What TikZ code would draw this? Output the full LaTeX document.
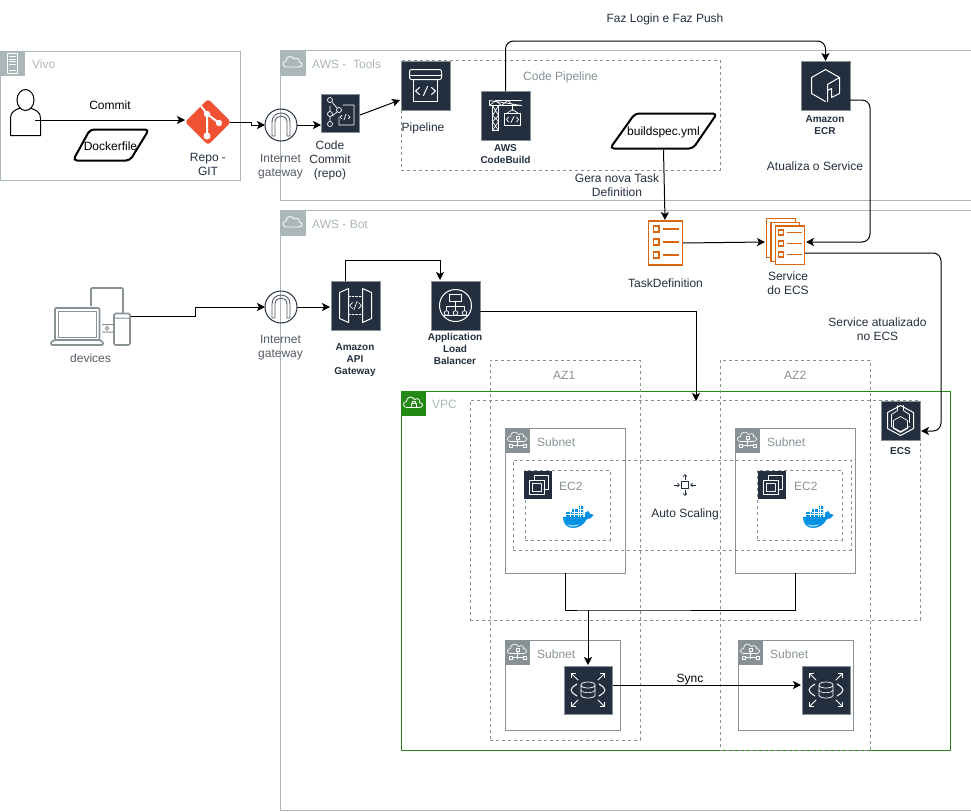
\documentclass[tikz,border=0pt]{standalone}
\usepackage{fontspec}
\setmainfont{Liberation Sans}
\usetikzlibrary{arrows.meta,calc}
\definecolor{aws}{HTML}{232F3E}
\definecolor{grp}{HTML}{AAB7B8}
\definecolor{dsh}{HTML}{879196}
\definecolor{mut}{HTML}{545B64}
\definecolor{org}{HTML}{D86613}
\definecolor{grn}{HTML}{248814}
\definecolor{gitc}{HTML}{F05133}
\definecolor{dock}{HTML}{0091E2}
\newcommand\bx[6]{\pgfmathsetmacro\bw{#5-#3}\pgfmathsetmacro\bh{#6-#4}\node[#1,anchor=north west,minimum width=\bw pt,minimum height=\bh pt] (#2) at (#3,#4) {};}
\tikzset{
 x=1pt,y=-1pt,
 group/.style={draw=grp,line width=1pt,inner sep=0,outer sep=0},
 subn/.style={draw=dsh,line width=1pt,inner sep=0,outer sep=0},
 vpcbox/.style={draw=grn,line width=1pt,inner sep=0,outer sep=0},
 dbox/.style={draw=dsh,line width=.8pt,dash pattern=on 3pt off 3pt,inner sep=0,outer sep=0},
 hdr/.style={fill=#1,anchor=north west,minimum size=25pt,inner sep=0,outer sep=0},
 icon/.style={fill=aws,draw=dsh,line width=.8pt,minimum size=#1 pt,inner sep=0,outer sep=0},
 conn/.style={draw=black,line width=1pt,-{Stealth[length=8pt,width=8pt,inset=2pt]}},
 plain/.style={draw=black,line width=1pt},
 lbl/.style={font=\fontsize{12}{14}\selectfont,align=center,inner sep=0,text=aws},
 grayl/.style={font=\fontsize{12}{14}\selectfont,align=center,inner sep=0,text=mut},
 grplbl/.style={font=\fontsize{12}{14}\selectfont,anchor=west,inner sep=0,text=grp},
 sublbl/.style={font=\fontsize{12}{14}\selectfont,anchor=west,inner sep=0,text=dsh},
 blbl/.style={font=\fontsize{10}{12}\bfseries\selectfont,align=center,inner sep=0,text=aws},
 wl/.style={draw=white,line width=1pt,line join=round,line cap=round},
 wt/.style={draw=white,line width=.7pt,line join=round,line cap=round},
 pics/cloudg/.style={code={\draw[white,line width=.8pt,line join=round] (-7,4) .. controls (-11,4) and (-11,-2) .. (-7,-2) .. controls (-7,-7) and (-1,-8) .. (1,-4) .. controls (4,-6) and (7,-4) .. (6,-1) .. controls (10,-1) and (10,4) .. (6,4) -- cycle;}},
 pics/vpcg/.style={code={\pic {cloudg};\draw[wt] (-2.5,0) rectangle (2.5,3.5) (-1.5,0) -- (-1.5,-2) -- (1.5,-2) -- (1.5,0);}},
 pics/subnetg/.style={code={\draw[wt] (-7,1) .. controls (-11,1) and (-11,-4) .. (-7,-4) .. controls (-7,-9) and (-1,-10) .. (1,-6) .. controls (4,-8) and (7,-6) .. (6,-4) .. controls (10,-4) and (10,1) .. (6,1) -- cycle;
   \draw[wt] (-1.5,-4) rectangle (1.5,-1) (0,-1) -- (0,6) (-6,5) -- (-8,5) (-6,5) -- (6,5);
   \draw[wt,fill=dsh] (-8.5,3.5) rectangle (-5.5,6.5) (5.5,3.5) rectangle (8.5,6.5);}},
 pics/serverg/.style={code={\draw[wt] (-5,-10) rectangle (5,10) (-3,-7)--(3,-7) (-3,-4.5)--(3,-4.5) (-3,-2)--(3,-2) (-3,.5)--(3,.5) (-3,7)--(3,7);}},
 pics/igwg/.style={code={\draw[draw=mut,line width=.9pt,line join=round] (-9,11) -- (-9,-3) .. controls (-9,-15) and (9,-15) .. (9,-3) -- (9,11) -- (6,11) -- (6,-3) .. controls (6,-11) and (-6,-11) .. (-6,-3) -- (-6,11) -- cycle;}},
 pics/pipeg/.style={code={\draw[wl,rounded corners=2pt] (-16,-6) rectangle (16,-16);
   \draw[wl] (-16,-10)--(16,-10) (-12,-6) -- (-12,16) -- (12,16) -- (12,-6);
   \draw[wl] (-6,2)--(-10,5.5)--(-6,9) (6,2)--(10,5.5)--(6,9) (-2,10)--(2,1);}},
 pics/commitg/.style={code={\draw[wt] (-10,-7) -- (-10,-2) (-10,4) -- (-10,8) (-10,-13) circle[radius=2.5] (-10,1) circle[radius=2.5] (-10,11) circle[radius=2.5] (-1,-3) circle[radius=2.5];
   \draw[wt] (-8,-11) -- (-3,-5) (-3,-1) -- (-8,3) (3,-8) -- (14,-8) -- (14,12) -- (-1,12) -- (-1,4);
   \draw[wt] (2,2)--(0,4)--(2,6) (8,2)--(10,4)--(8,6) (4,7)--(6,1);}},
 pics/cbg/.style={code={\draw[wt] (-16,-15) -- (16,-10) -- (-16,-10) -- cycle (-16,-10)--(-10,-15)--(-4,-10)--(2,-15)--(8,-10) (-10,-15)--(16,-15) (-13,-10) -- (-13,15) -- (-7,15) -- (-7,-10) (-13,-10) -- (-7,0) -- (-13,6) -- (-7,15) (-7,-10) -- (-13,0) -- (-7,6) -- (-13,15);
   \draw[wt] (7,-10) -- (7,-5) (-1,-2) rectangle (15,10) (1,-2) -- (7,-6) -- (13,-2);
   \draw[wt] (3,1.5)--(1,4)--(3,6.5) (11,1.5)--(13,4)--(11,6.5) (5.5,7)--(8.5,1);}},
 pics/ecrg/.style={code={\draw[wl] (14,-8) -- (0,-16) -- (-14,-8) -- (-14,8) -- (0,16) (2,16) -- (2,-1) -- (14,-8) -- (14,8) -- (6,12) -- (6,3) -- (2,5);}},
 pics/apig/.style={code={\draw[wl] (-16,-13) -- (-7,-17) -- (-7,17) -- (-16,13) -- cycle (16,-13) -- (7,-17) -- (7,17) -- (16,13) -- cycle;
   \draw[wt,dash pattern=on 2pt off 1.5pt] (-7,-9) -- (7,-9) (-7,9) -- (7,9);
   \draw[wt] (-3,-3)--(-6,0)--(-3,3) (3,-3)--(6,0)--(3,3) (-1.5,4)--(1.5,-4);}},
 pics/albg/.style={code={\draw[wl] (0,0) circle[radius=16];
   \draw[wt] (-6,-11) rectangle (6,-4) (0,-4) -- (0,5) (-9,1) -- (9,1) (-9,1) -- (-9,5) (9,1) -- (9,5);
   \draw[wt] (-9,7.5) circle[radius=2.3] (0,7.5) circle[radius=2.3] (9,7.5) circle[radius=2.3] (-12,10) -- (12,10);}},
 pics/ecsg/.style={code={\draw[wl] (0,-15) -- (13,-8) -- (13,8) -- (0,15) -- (-13,8) -- (-13,-8) -- cycle;
   \draw[wt] (-3,-15) -- (-3,-10) -- (-9,-6) -- (-9,6) -- (0,11) -- (9,6) (3,-15) -- (3,-10) -- (9,-6) -- (9,2) (0,-4) -- (7,0) -- (7,8) -- (0,12) -- (-7,8) -- (-7,0) -- cycle;}},
 pics/ec2g/.style={code={\draw[wt] (-4,-5) -- (-4,-10) -- (10,-10) -- (10,4) -- (6,4);
   \draw[wt] (-9,-5) rectangle (6,9);
   \draw[wt,dash pattern=on 1pt off .8pt,fill=aws] (-6,-2) rectangle (3,6);}},
 pics/whale/.style={code={\fill[dock] (-15,0) -- (7,0) .. controls (6,-4) and (8,-6) .. (10,-6) .. controls (11,-5) and (12,-4) .. (12,-3) .. controls (13,-3) and (15,-3) .. (15.5,-2) .. controls (14,1) and (11,2) .. (9,2) .. controls (6,8) and (0,11) .. (-5,11) .. controls (-11,11) and (-15,7) .. (-15,0) -- cycle;
   \fill[dock] (-12,-5) rectangle (5,0) (-6,-8) rectangle (5,-5) (0,-11) rectangle (5,-8);
   \draw[white,line width=.35pt] (-12,-2.5)--(5,-2.5) (-8,-5)--(-8,0) (-4,-8)--(-4,0) (0,-11)--(0,0) (2.5,-11)--(2.5,0) (-6,-5)--(5,-5) (0,-8)--(5,-8);
   \fill[white!80!dock] (-11,7) .. controls (-7,9) and (-3,9) .. (1,7) .. controls (-1,10) and (-8,11) .. (-11,7) -- cycle;}},
 pics/asg/.style={code={\draw[aws,line width=.8pt] (-3.5,-3.5) rectangle (3.5,3.5);
   \draw[aws,line width=.7pt,-{Straight Barb[length=2pt,width=3.5pt]}] (-11,0) -- (-5,0);
   \draw[aws,line width=.7pt,-{Straight Barb[length=2pt,width=3.5pt]}] (11,0) -- (5,0);
   \draw[aws,line width=.7pt,-{Straight Barb[length=2pt,width=3.5pt]}] (0,-5) -- (0,-11);
   \draw[aws,line width=.7pt,-{Straight Barb[length=2pt,width=3.5pt]}] (0,5) -- (0,11);}},
 pics/rdsg/.style={code={
   \draw[wl,-{Straight Barb[length=3pt,width=6pt]}] (-10,-10) -- (-17,-17);
   \draw[wl,-{Straight Barb[length=3pt,width=6pt]}] (10,-10) -- (17,-17);
   \draw[wl,-{Straight Barb[length=3pt,width=6pt]}] (-10,10) -- (-17,17);
   \draw[wl,-{Straight Barb[length=3pt,width=6pt]}] (10,10) -- (17,17);
   \draw[wl] (-11,-6) .. controls (-19,-1) and (-19,1) .. (-11,6) (11,-6) .. controls (19,-1) and (19,1) .. (11,6);
   \draw[wt] (-7,-5) .. controls (-7,-9) and (7,-9) .. (7,-5) .. controls (7,-1) and (-7,-1) .. (-7,-5) -- (-7,5) .. controls (-7,9) and (7,9) .. (7,5) -- (7,-5);
   \draw[wt,dash pattern=on 1.5pt off 1pt] (-7,0) .. controls (-7,3.5) and (7,3.5) .. (7,0);}},
 pics/listg/.style={code={\draw[org,line width=1.7pt,fill=white] (-17,-22) rectangle (17,22);
   \foreach \yy/\xe in {-14/13,-1/13,12/13}{\draw[org,line width=1.4pt] (-12,\yy-3) rectangle (-6.5,\yy+3);\draw[org,line width=1.4pt] (-3,\yy) -- (\xe,\yy);}}},
 pics/gitg/.style={code={\fill[gitc,rounded corners=3pt] (0,-23) -- (23,0) -- (0,23) -- (-23,0) -- cycle;
   \draw[white,line width=2pt] (-7,-16) -- (-1,-8) -- (-1,14) (-1,-8) -- (11,1);
   \fill[white] (-1,-8) circle[radius=3.2] (11,1) circle[radius=3.2] (-1,14) circle[radius=3.5];}},
 pics/devg/.style={code={\begin{scope}[draw=dsh,line width=1.6pt,line join=round]
   \draw[draw=dsh,rounded corners=1pt] (91,306) -- (91,288) -- (123,288) -- (123,313);
   \draw[draw=dsh,rounded corners=1pt] (55,340) -- (55,308) -- (99.5,308) -- (99.5,340);
   \draw[draw=dsh,line width=1pt] (58,311) rectangle (96.5,337);
   \draw[draw=dsh,rounded corners=1pt] (51,345) -- (103,345) -- (103,342) -- (99.5,340) -- (55,340) -- (51,342) -- cycle;
   \draw[draw=dsh,rounded corners=1.5pt] (114,313.5) rectangle (130,345);
   \draw[draw=dsh,line width=1pt] (114,318) -- (130,318) (102,324.5) -- (113,324.5) (102,332) -- (113,332) (107,328.3) circle[radius=1.8];
   \end{scope}}},
}
\begin{document}
\begin{tikzpicture}
\useasboundingbox (0,0) rectangle (971,811);
% groups
\bx{group}{vivo}{0}{51}{240}{180}
\bx{group}{tools}{280.5}{50.5}{972}{200.5}
\bx{group}{bot}{280.5}{210.5}{972}{810.5}
\bx{dbox}{codepipe}{401}{60}{720}{170}
\bx{vpcbox}{vpc}{401}{391}{950}{750}
\bx{dbox}{az1}{490}{360}{640}{740}
\bx{dbox}{az2}{720}{360}{870}{750}
\bx{dbox}{cluster}{470}{400}{920}{620}
\bx{subn}{sn1}{505}{428}{625}{573}
\bx{subn}{sn2}{735}{428}{855}{573}
\bx{dbox}{autosc}{513}{460}{851}{550}
\bx{dbox}{ec2a}{525}{470}{610}{540}
\bx{dbox}{ec2b}{757}{470}{842}{540}
\bx{subn}{sn3}{505}{640}{620}{730}
\bx{subn}{sn4}{738}{640}{853}{730}
% headers
\node[hdr=grp] (vivoh) at (vivo.north west) {};
\pic at (vivoh.center) {serverg};
\node[hdr=grp] (toolsh) at (tools.north west) {};
\pic at (toolsh.center) {cloudg};
\node[hdr=grp] (both) at (bot.north west) {};
\pic at (both.center) {cloudg};
\node[hdr=grn] (vpch) at (vpc.north west) {};
\pic at (vpch.center) {vpcg};
\node[hdr=dsh] (sn1h) at (sn1.north west) {};
\pic at (sn1h.center) {subnetg};
\node[hdr=dsh] (sn2h) at (sn2.north west) {};
\pic at (sn2h.center) {subnetg};
\node[hdr=dsh] (sn3h) at (sn3.north west) {};
\pic at (sn3h.center) {subnetg};
\node[hdr=dsh] (sn4h) at (sn4.north west) {};
\pic at (sn4h.center) {subnetg};
% group labels
\node[grplbl] (lvivo) at (32,64) {Vivo};
\node[grplbl] (ltools) at (312,64) {AWS -\ \ Tools};
\node[grplbl] (lbot) at (312,224) {AWS - Bot};
\node[sublbl] (lcp) at (523,77) {Code Pipeline};
\node[grplbl] (lvpc) at (432,404) {VPC};
\node[sublbl] (laz1) at (553,375) {AZ1};
\node[sublbl] (laz2) at (784,375) {AZ2};
\node[sublbl] (ls1) at (537,442) {Subnet};
\node[sublbl] (ls2) at (767,442) {Subnet};
\node[sublbl] (ls3) at (537,654) {Subnet};
\node[sublbl] (ls4) at (770,654) {Subnet};
\node[sublbl] (le1) at (559,486) {EC2};
\node[sublbl] (le2) at (794,486) {EC2};
% icons
\node[icon=49] (pipeline) at (425.5,85.5) {};
\pic at (pipeline.center) {pipeg};
\node[icon=38] (commit) at (340,113) {};
\pic at (commit.center) {commitg};
\node[icon=49] (build) at (505.5,115.5) {};
\pic at (build.center) {cbg};
\node[icon=49] (ecr) at (825.5,85.5) {};
\pic at (ecr.center) {ecrg};
\node[icon=49] (api) at (355.5,305.5) {};
\pic at (api.center) {apig};
\node[icon=49] (alb) at (455.5,305.5) {};
\pic at (alb.center) {albg};
\node[icon=39] (ecs) at (900.5,420.5) {};
\pic at (ecs.center) {ecsg};
\node[icon=28,draw=none] (ec2ia) at (538,485) {};
\pic at (ec2ia.center) {ec2g};
\node[icon=28,draw=none] (ec2ib) at (772,485) {};
\pic at (ec2ib.center) {ec2g};
\node[icon=48] (rds1) at (588,690) {};
\pic at (rds1.center) {rdsg};
\node[icon=48] (rds2) at (826,690) {};
\pic at (rds2.center) {rdsg};
\node[circle,draw=aws,line width=1pt,minimum size=32pt,inner sep=0,outer sep=0] (igw1) at (281,125) {};
\pic at (igw1.center) {igwg};
\node[circle,draw=aws,line width=1pt,minimum size=32pt,inner sep=0,outer sep=0] (igw2) at (281,307) {};
\pic at (igw2.center) {igwg};
\node[minimum size=46pt,inner sep=0,outer sep=0] (git) at (208,122) {};
\pic at (git.center) {gitg};
\node[minimum width=35pt,minimum height=44pt,inner sep=0,outer sep=0] (task) at (665.5,243) {};
\pic at (task.center) {listg};
\node[minimum width=39pt,minimum height=47pt,inner sep=0,outer sep=0] (svc) at (785.5,241.5) {};
\begin{scope}[shift={(785.5,241.5)}]
\draw[org,line width=1.7pt,fill=white] (-19,-23) rectangle (10,16);
\draw[org,line width=1.7pt,fill=white] (-14.5,-19) rectangle (14,20);
\draw[org,line width=1.7pt,fill=white] (-10,-15.5) rectangle (19,23);
\foreach \yy in {-11,0,11}{\draw[org,line width=1.4pt] (-7,\yy-2.5+2) rectangle (-2,\yy+2.5+2);\draw[org,line width=1.4pt] (1,\yy+2) -- (16,\yy+2);}
\end{scope}
\node[minimum width=80pt,minimum height=58pt,inner sep=0,outer sep=0] (devices) at (90.5,316) {};
\pic at (0,0) {devg};
\node[minimum size=22pt,inner sep=0,outer sep=0] (asicon) at (685,485) {};
\pic at (asicon.center) {asg};
\node[minimum width=30pt,minimum height=22pt,inner sep=0,outer sep=0] (wh1) at (578,517) {};
\pic at (wh1.center) {whale};
\node[minimum width=30pt,minimum height=22pt,inner sep=0,outer sep=0] (wh2) at (818,517) {};
\pic at (wh2.center) {whale};
% person
\node[minimum width=30pt,minimum height=45pt,inner sep=0,outer sep=0] (user) at (25.5,112.5) {};
\draw[black,line width=1pt,fill=white] (10.5,135.5) -- (10.5,118) .. controls (10.5,112) and (15,110) .. (20,108) -- (30,108) .. controls (36,110) and (40.5,112) .. (40.5,118) -- (40.5,135.5) -- cycle;
\draw[black,line width=1pt,fill=white] (25.5,100) ellipse[x radius=8.5,y radius=10.5];
% parallelograms
\node[lbl,text=black,minimum width=76pt,minimum height=32pt] (docker) at (110.5,146) {Dockerfile};
\draw[black,line width=2pt,rounded corners=4pt] (73,160.5) -- (90,129.5) -- (149,129.5) -- (130,160.5) -- cycle;
\node[lbl,text=black,minimum width=107pt,minimum height=36pt] (bspec) at (663.5,132) {buildspec.yml};
\draw[black,line width=2pt,rounded corners=4pt] (610,148.5) -- (635,113.5) -- (717,113.5) -- (693,148.5) -- cycle;
% labels
\node[lbl,text=black] (lcommit) at (110,105) {Commit};
\node[lbl] (lrepo) at (208,164) {Repo -\\GIT};
\node[grayl] (ligw1) at (280.5,166.5) {Internet\\gateway};
\node[lbl] (lcc) at (330,160) {Code\\Commit\\(repo)};
\node[lbl,anchor=west] (lpipe) at (401.5,128) {Pipeline};
\node[blbl] (lbuild) at (505.5,154) {AWS\\CodeBuild};
\node[blbl] (lecr) at (825,125) {Amazon\\ECR};
\node[lbl] (lpush) at (665,19.5) {Faz Login e Faz Push};
\node[lbl] (lupd) at (815,166.5) {Atualiza o Service};
\node[lbl] (lgera) at (617,185) {Gera nova Task\\Definition};
\node[lbl] (ltask) at (665.5,283.5) {TaskDefinition};
\node[lbl] (lsvc) at (788,283) {Service\\do ECS};
\node[lbl] (lsvcu) at (877.5,329) {Service atualizado\\no ECS};
\node[grayl] (ldev) at (90.5,358.5) {devices};
\node[grayl] (ligw2) at (280.5,348) {Internet\\gateway};
\node[blbl] (lapi) at (355,360) {Amazon\\API\\Gateway};
\node[blbl] (lalb) at (455,349) {Application\\Load\\Balancer};
\node[blbl] (lecs) at (900.5,451) {ECS};
\node[lbl] (las) at (685,514) {Auto Scaling};
\node[lbl,text=black] (lsync) at (690,680) {Sync};
% connector ends
\coordinate (userout) at (35,120);
\coordinate (gitin) at (185,120);
\coordinate (gitout) at (230,122.5);
\coordinate (igw1j) at (251,125);
\coordinate (commitin) at (321,125);
\coordinate (commitout) at (360,115);
\coordinate (pipein) at (400,100);
\coordinate (pushl) at (505.5,41);
\coordinate (pushr) at (825.5,41);
\coordinate (ecrout) at (850,100);
\coordinate (ecrturn) at (870,242);
\coordinate (svcin) at (806,242);
\coordinate (taskout) at (683,243);
\coordinate (svcleft) at (765,242);
\coordinate (taskin) at (665,220);
\coordinate (svcout) at (805,253);
\coordinate (ecsturn) at (941,431);
\coordinate (ecsin) at (921,431);
\coordinate (devout) at (131,316);
\coordinate (devmid) at (195,307);
\coordinate (apiin) at (330,307);
\coordinate (apiup) at (345,281);
\coordinate (albin) at (440,280);
\coordinate (apitop) at (345,260);
\coordinate (albout) at (480,311);
\coordinate (vpcin) at (696,401);
\coordinate (s1out) at (565,573);
\coordinate (s2out) at (795,573);
\coordinate (busm) at (588,610);
\coordinate (rdsin) at (588,665);
\coordinate (syncout) at (613,685);
\coordinate (syncin) at (801,685);
% connectors
\draw[conn] (userout) -- (gitin);
\draw[conn] (gitout) -| (igw1j) -- (igw1.west);
\draw[conn] (igw1.east) -- (commitin);
\draw[conn] (commitout) -- (pipein);
\draw[conn,rounded corners=8pt] (build.north) -- (pushl) -- (pushr) -- (ecr.north);
\draw[conn,rounded corners=8pt] (ecrout) -| (ecrturn) -- (svcin);
\draw[conn] (bspec.south) -- (taskin);
\draw[conn] (taskout) -- (svcleft);
\draw[conn,rounded corners=8pt] (svcout) -| (ecsturn) -- (ecsin);
\draw[conn] (devout) -| (devmid) -- (igw2.west);
\draw[conn] (igw2.east) -- (apiin);
\draw[conn] (apiup) |- (apitop) -| (albin);
\draw[conn] (albout) -| (vpcin);
\draw[plain] (s1out) |- (busm) -| (s2out);
\draw[conn] (busm) -- (rdsin);
\draw[conn] (syncout) -- (syncin);
\end{tikzpicture}
\end{document}
